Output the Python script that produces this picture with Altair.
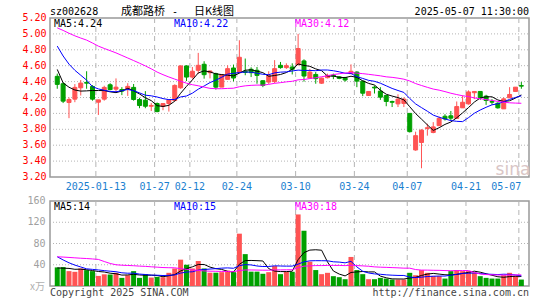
import altair as alt
import pandas as pd
import numpy as np

# ---------------- data ----------------
opens = [4.466, 4.373, 4.137, 4.179, 4.322, 4.39, 4.339, 4.141, 4.179, 4.36,
         4.305, 4.30, 4.305, 4.327, 4.175, 4.166, 4.09, 4.124, 4.09, 4.124,
         4.162, 4.322, 4.597, 4.457, 4.542, 4.618, 4.512, 4.50, 4.331, 4.428,
         4.571, 4.512, 4.53, 4.555, 4.542, 4.411, 4.394, 4.40, 4.605, 4.576,
         4.584, 4.614, 4.66, 4.445, 4.49, 4.38, 4.449, 4.48, 4.46, 4.45,
         4.50, 4.52, 4.406, 4.225, 4.33, 4.28, 4.225, 4.15, 4.12, 4.125,
         4.00, 3.54, 3.634, 3.81, 3.76, 3.846, 3.964, 3.97, 3.938, 4.07,
         4.12, 4.26, 4.276, 4.217, 4.15, 4.128, 4.057, 4.196, 4.276, 4.35]
highs = [4.50, 4.39, 4.20, 4.369, 4.42, 4.53, 4.355, 4.17, 4.348, 4.38,
         4.44, 4.33, 4.38, 4.37, 4.196, 4.28, 4.13, 4.137, 4.13, 4.17,
         4.365, 4.605, 4.605, 4.584, 4.761, 4.656, 4.54, 4.512, 4.49, 4.605,
         4.614, 4.92, 4.69, 4.58, 4.584, 4.415, 4.53, 4.67, 4.647, 4.63,
         4.63, 5.00, 4.68, 4.56, 4.52, 4.45, 4.50, 4.50, 4.47, 4.46,
         4.617, 4.53, 4.41, 4.28, 4.35, 4.33, 4.23, 4.16, 4.24, 4.20,
         4.00, 3.77, 3.80, 3.87, 3.89, 3.96, 3.99, 4.03, 4.15, 4.225,
         4.29, 4.276, 4.276, 4.234, 4.18, 4.141, 4.20, 4.33, 4.33, 4.394]
lows = [4.31, 4.13, 3.94, 4.141, 4.225, 4.31, 4.16, 3.98, 4.16, 4.29,
        4.27, 4.23, 4.22, 4.16, 4.065, 4.065, 4.03, 4.014, 4.04, 4.023,
        4.15, 4.31, 4.407, 4.437, 4.50, 4.437, 4.44, 4.30, 4.33, 4.428,
        4.403, 4.512, 4.48, 4.457, 4.373, 4.33, 4.37, 4.38, 4.563, 4.56,
        4.49, 4.60, 4.40, 4.44, 4.373, 4.37, 4.44, 4.43, 4.43, 4.40,
        4.50, 4.33, 4.217, 4.22, 4.25, 4.17, 4.09, 4.08, 4.08, 4.08,
        3.76, 3.53, 3.31, 3.72, 3.75, 3.84, 3.91, 3.91, 3.93, 4.07,
        4.11, 4.18, 4.17, 4.107, 4.11, 4.06, 4.057, 4.196, 4.276, 4.31]
closes = [4.365, 4.154, 4.175, 4.327, 4.381, 4.38, 4.179, 4.17, 4.327, 4.30,
          4.33, 4.28, 4.34, 4.175, 4.099, 4.09, 4.10, 4.023, 4.124, 4.17,
          4.352, 4.597, 4.457, 4.53, 4.605, 4.487, 4.533, 4.33, 4.487, 4.563,
          4.445, 4.706, 4.515, 4.512, 4.478, 4.352, 4.478, 4.563, 4.576, 4.60,
          4.555, 4.816, 4.47, 4.52, 4.437, 4.444, 4.478, 4.47, 4.44, 4.42,
          4.53, 4.406, 4.254, 4.276, 4.32, 4.204, 4.15, 4.14, 4.18, 4.18,
          3.77, 3.72, 3.79, 3.82, 3.83, 3.938, 3.93, 3.94, 4.086, 4.14,
          4.27, 4.276, 4.196, 4.162, 4.141, 4.07, 4.183, 4.238, 4.33, 4.343]
volumes = [35, 35.6, 28, 26.7, 33, 29.9, 28, 19, 22, 21.6,
           24.8, 15.3, 20.3, 28, 15.3, 22.3, 15.9, 17.2, 16.5, 24.8,
           33, 49.6, 40, 33, 47, 33, 25, 25, 26, 29,
           26, 98.5, 60, 27, 27, 23, 26, 37.5, 22.3, 26.7,
           26.7, 134.7, 104, 45.7, 30, 22.3, 24.8, 18.5, 16.6, 12.8,
           54.7, 30, 22.3, 12.8, 12.8, 15.3, 14, 12.1, 12.1, 12.1,
           24.8, 20.3, 30, 24.8, 18.5, 18.5, 14, 28, 30, 28,
           28, 25.4, 18.5, 15.3, 14, 14, 20.3, 24.8, 19, 12.1]
# sessions before the window (only feed the moving averages)
prior_closes = [5.10, 5.25, 5.30, 5.22, 5.15, 5.28, 5.35, 5.20, 5.12, 5.18,
                5.25, 5.30, 5.15, 5.08, 5.12, 5.20, 5.25, 5.10, 5.05, 5.15,
                5.40, 5.20, 5.10, 5.00, 5.00, 5.00, 4.45, 4.50, 4.45]
prior_volumes = [52, 48, 50, 55, 47, 51, 47, 140, 130, 100,
                 40, 35, 42, 38, 36, 41, 37, 39, 34, 38,
                 95, 82, 70, 68, 65, 38, 30, 35, 32]

date_index = [7, 17, 23, 31, 41, 51, 60, 70, 79]
date_labels = ["2025-01-13", "01-27", "02-12", "02-24", "03-10", "03-24", "04-07", "04-21", "05-07"]
price_ticks = [3.20, 3.40, 3.60, 3.80, 4.00, 4.20, 4.40, 4.60, 4.80, 5.00, 5.20]
vol_ticks = [40, 80, 120, 160]
price_ma_labels = ["MA5:4.24", "MA10:4.22", "MA30:4.12"]
vol_ma_labels = ["MA5:14", "MA10:15", "MA30:18"]
ma_colors = ["#000000", "#0000ff", "#ff00ff"]

# ---------------- derived tables ----------------
N = len(closes)
P = len(prior_closes)
c_all = pd.Series(prior_closes + closes, dtype=float)
v_all = pd.Series(prior_volumes + volumes, dtype=float)
df = pd.DataFrame({"i": range(N), "open": opens, "high": highs, "low": lows,
                   "close": closes, "vol": volumes})
df["dir"] = np.where(df["close"] >= df["open"], "up", "down")
for n in (5, 10, 30):
    df[f"ma{n}"] = c_all.rolling(n).mean().iloc[P:].to_numpy()
    df[f"vma{n}"] = v_all.rolling(n).mean().iloc[P:].to_numpy()

dates_df = pd.DataFrame({"i": date_index, "label": date_labels})
pt_df = pd.DataFrame({"p": price_ticks})
vt_df = pd.DataFrame({"v": vol_ticks})

RED = "#ff5353"
GREEN = "#00a000"
GRID = "#b4b4b4"
FRAME = "#999999"
MONO = "DejaVu Sans Mono"

W, H = 479, 268
PH = 159      # price panel height
VT = 183      # volume panel top

xs = alt.Scale(domain=[-0.383, 79.45], nice=False, zero=False)
ps = alt.Scale(domain=[5.20 - H * 2.0 / PH, 5.20], nice=False, zero=False)
vs = alt.Scale(domain=[0, H * 160.0 / (H - VT)], nice=False, zero=False)
X = alt.X("i:Q", scale=xs, axis=None)
dircol = alt.Color("dir:N", scale=alt.Scale(domain=["up", "down"], range=[RED, GREEN]), legend=None)
dirstroke = alt.Stroke("dir:N", scale=alt.Scale(domain=["up", "down"], range=[RED, GREEN]), legend=None)

one = pd.DataFrame({"a": [0]})
layers = []

# frames
for top, bot in ((0, PH), (VT, H)):
    layers.append(alt.Chart(one).mark_rect(fillOpacity=0, stroke=FRAME, strokeWidth=1.5).encode(
        x=alt.value(0), x2=alt.value(W), y=alt.value(top), y2=alt.value(bot)))

# horizontal dotted grids
layers.append(alt.Chart(pt_df).transform_filter("datum.p > 3.3 && datum.p < 5.1").mark_rule(
    color=GRID, strokeDash=[1, 2], strokeWidth=1).encode(
    y=alt.Y("p:Q", scale=ps, axis=None), x=alt.value(0), x2=alt.value(W)))
layers.append(alt.Chart(vt_df).transform_filter("datum.v < 150").mark_rule(
    color=GRID, strokeDash=[1, 2], strokeWidth=1).encode(
    y=alt.Y("v:Q", scale=vs, axis=None), x=alt.value(0), x2=alt.value(W)))

# vertical dashed grids
for top, bot in ((0, PH), (VT, H)):
    layers.append(alt.Chart(dates_df).mark_rule(color=GRID, strokeDash=[5, 4], strokeWidth=1, xOffset=-2.5).encode(
        x=X, y=alt.value(top), y2=alt.value(bot)))

base = alt.Chart(df)
# candles
layers.append(base.mark_rule(strokeWidth=1).encode(
    x=X, y=alt.Y("low:Q", scale=ps, axis=None), y2="high:Q", color=dircol))
layers.append(base.mark_bar(size=4, strokeWidth=1).encode(
    x=X, y=alt.Y("open:Q", scale=ps, axis=None), y2="close:Q", color=dircol, stroke=dirstroke))

# price moving averages
for n, col in zip((5, 10, 30), ma_colors):
    layers.append(base.mark_line(color=col, strokeWidth=1).encode(
        x=X, y=alt.Y(f"ma{n}:Q", scale=ps, axis=None)))

# volume bars
layers.append(base.mark_bar(size=5).encode(
    x=X, y=alt.Y("vol:Q", scale=vs, axis=None), y2=alt.datum(0), color=dircol))
for n, col in zip((5, 10, 30), ma_colors):
    layers.append(base.mark_line(color=col, strokeWidth=1).encode(
        x=X, y=alt.Y(f"vma{n}:Q", scale=vs, axis=None)))

# axis labels
layers.append(alt.Chart(pt_df).mark_text(align="right", baseline="middle", font=MONO, fontSize=10,
                                         color="#ff0000").encode(
    y=alt.Y("p:Q", scale=ps, axis=None), x=alt.value(-3.5), text=alt.Text("p:Q", format=".2f")))
layers.append(alt.Chart(vt_df).mark_text(align="right", baseline="middle", font=MONO, fontSize=10,
                                         color="#a0a0a0").encode(
    y=alt.Y("v:Q", scale=vs, axis=None), x=alt.value(-4.5), text="v:Q"))
layers.append(alt.Chart(dates_df).transform_filter("datum.i < 79").mark_text(
    align="center", baseline="middle", font=MONO, fontSize=10, color="#1a80d0", xOffset=-2.5).encode(
    x=X, y=alt.value(168.5), text="label:N"))
layers.append(alt.Chart(dates_df).transform_filter("datum.i >= 79").mark_text(
    align="right", baseline="middle", font=MONO, fontSize=10, color="#1a80d0", xOffset=0).encode(
    x=X, y=alt.value(168.5), text="label:N"))

# MA legends
for lab, col, xx in zip(price_ma_labels, ma_colors, (4, 124, 245)):
    layers.append(alt.Chart(one).mark_text(align="left", baseline="alphabetic", font=MONO, fontSize=10,
                                           color=col).encode(
        x=alt.value(xx), y=alt.value(9), text=alt.value(lab)))
for lab, col, xx in zip(vol_ma_labels, ma_colors, (4, 124, 245)):
    layers.append(alt.Chart(one).mark_text(align="left", baseline="alphabetic", font=MONO, fontSize=10,
                                           color=col).encode(
        x=alt.value(xx), y=alt.value(VT + 9), text=alt.value(lab)))

# titles and footers
def txt(s, x, y, align="left", color="#000000", font=MONO, size=10, baseline="alphabetic"):
    return alt.Chart(one).mark_text(align=align, baseline=baseline, font=font, fontSize=size,
                                    color=color).encode(x=alt.value(x), y=alt.value(y), text=alt.value(s))

CJK = "Noto Sans CJK SC"
layers.append(txt("sz002628", 0, -3))
layers.append(txt("成都路桥", 71, -3, font=CJK, size=11))
layers.append(txt("-", 125, -3, align="center", font=MONO, size=10))
layers.append(txt("日K线图", 144, -3, font=CJK, size=11))
layers.append(txt("2025-05-07 11:30:00", W, -3, align="right"))
layers.append(txt("x万", -5, 269, align="right", color="#b0b0b0", font=CJK, size=10, baseline="middle"))
layers.append(txt("Copyright 2025 SINA.COM", 0, 278, color="#444444"))
layers.append(txt("http://finance.sina.com.cn", W, 278, align="right", color="#444444"))
layers.append(txt("sina", 463, 152, align="center", color="#d9c6c6", font="DejaVu Sans", size=17, baseline="middle"))

chart = alt.layer(*layers).resolve_scale(y="independent").properties(
    width=W, height=H,
    padding={"left": 50, "top": 18, "right": 16, "bottom": 14},
    autosize=alt.AutoSizeParams(type="none"),
).configure_view(stroke=None)

chart.save("out.html", embed_options={"renderer": "svg", "actions": False})
